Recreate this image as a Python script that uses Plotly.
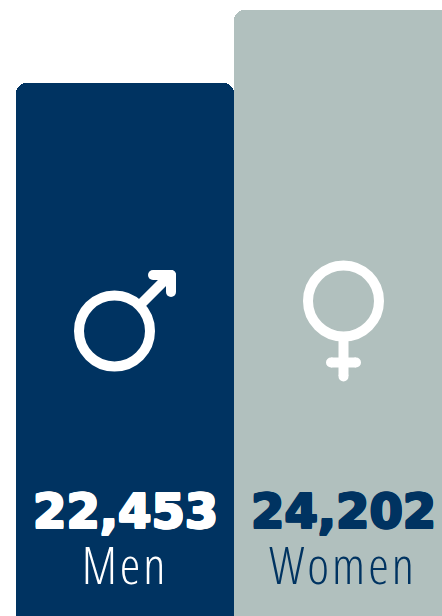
import plotly.graph_objects as go

categories = ["Men", "Women"]
values = [22453, 24202]
value_labels = ["22,453", "24,202"]
bar_colors = ["#003361", "#b1c0be"]
label_colors = ["#ffffff", "#003361"]

W, H = 442, 616
def px(x): return x / W
def py(y): return 1 - y / H

fig = go.Figure(go.Bar(x=categories, y=values, marker=dict(color=bar_colors, line=dict(width=0)),
                       hoverinfo="skip"))

def circle(cx, cy, r, width=0, fill=None):
    return dict(type="circle", xref="paper", yref="paper", layer="above",
                x0=px(cx - r), x1=px(cx + r), y0=py(cy + r), y1=py(cy - r),
                fillcolor=fill or "rgba(0,0,0,0)",
                line=dict(color="#ffffff", width=width))

def seg(x0, y0, x1, y1, width=10):
    return [dict(type="line", xref="paper", yref="paper", layer="above",
                 x0=px(x0), x1=px(x1), y0=py(y0), y1=py(y1),
                 line=dict(color="#ffffff", width=width)),
            circle(x0, y0, width / 2, 0, "#ffffff"),
            circle(x1, y1, width / 2, 0, "#ffffff")]

shapes = [circle(114.5, 331, 35.5, 10)]
shapes += [dict(type="line", xref="paper", yref="paper", layer="above",
                x0=px(141), x1=px(168), y0=py(304), y1=py(277),
                line=dict(color="#ffffff", width=10))]
shapes += seg(153, 275, 171, 275) + seg(171, 275, 171, 292)
shapes += [circle(343.5, 301, 35.5, 10)]
shapes += [dict(type="line", xref="paper", yref="paper", layer="above",
                x0=px(343.5), x1=px(343.5), y0=py(337), y1=py(376),
                line=dict(color="#ffffff", width=10))]
shapes += [circle(343.5, 376.5, 5, 0, "#ffffff")]
shapes += seg(331, 362.5, 356, 362.5)

def thick(col):
    return f"1px 0 0 {col}, -1px 0 0 {col}, 0 1px 0 {col}, 0 -1px 0 {col}, 1px 1px 0 {col}, -1px -1px 0 {col}, 1px -1px 0 {col}, -1px 1px 0 {col}"

annotations = []
for c, v, col in zip(categories, value_labels, label_colors):
    annotations.append(dict(x=c, y=py(511), xref="x", yref="paper", text=v, showarrow=False,
                            xanchor="center", yanchor="middle",
                            font=dict(family="DejaVu Sans", size=48, color=col, weight=700, shadow=thick(col))))
for c, col in zip(categories, label_colors):
    annotations.append(dict(x=c, y=py(563), xref="x", yref="paper", text=c, showarrow=False,
                            xanchor="center", yanchor="middle",
                            font=dict(family="Open Sans", size=52, color=col, weight=300)))

fig.update_layout(
    width=W, height=H, margin=dict(l=0, r=0, t=0, b=0),
    paper_bgcolor="#ffffff", plot_bgcolor="#ffffff",
    bargap=0, barcornerradius=10, showlegend=False,
    xaxis=dict(type="category", range=[-125 / 218, 1 + 99 / 218], visible=False, fixedrange=True),
    yaxis=dict(range=[9683, 24442], visible=False, fixedrange=True),
    shapes=shapes, annotations=annotations,
)
fig.write_html("out.html", config={"displayModeBar": False},
               post_script="document.body.style.margin='0';document.body.style.overflow='hidden';"
                           "document.querySelectorAll('.annotation-text').forEach(function(t){"
                           "if(/^[A-Za-z]/.test(t.textContent)){t.style.fontStretch='75%';t.style.letterSpacing='3px';}});")
